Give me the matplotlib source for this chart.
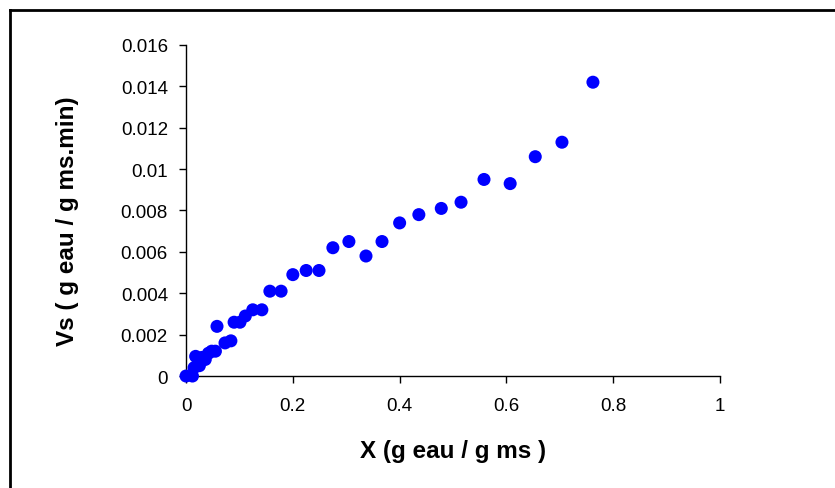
import matplotlib
matplotlib.use("Agg")
import matplotlib.pyplot as plt
from matplotlib.lines import Line2D

# Données
x_vals = [0.0, 0.012, 0.015, 0.018, 0.025, 0.030, 0.036, 0.042, 0.048, 0.055,
          0.058, 0.073, 0.084, 0.090, 0.101, 0.111, 0.125, 0.142, 0.157, 0.178,
          0.200, 0.225, 0.249, 0.275, 0.305, 0.337, 0.367, 0.400, 0.436, 0.478,
          0.515, 0.558, 0.607, 0.654, 0.704, 0.762]
vs_vals = [0.0, 0.0, 0.0004, 0.00095, 0.0005, 0.0009, 0.0008, 0.0011, 0.0012, 0.0012,
           0.0024, 0.0016, 0.0017, 0.0026, 0.0026, 0.0029, 0.0032, 0.0032, 0.0041, 0.0041,
           0.0049, 0.0051, 0.0051, 0.0062, 0.0065, 0.0058, 0.0065, 0.0074, 0.0078, 0.0081,
           0.0084, 0.0095, 0.0093, 0.0106, 0.0113, 0.0142]
x_ticks = [0, 0.2, 0.4, 0.6, 0.8, 1]
y_ticks = [0, 0.002, 0.004, 0.006, 0.008, 0.01, 0.012, 0.014, 0.016]

plt.rcParams['font.family'] = ['Liberation Sans', 'DejaVu Sans']

fig = plt.figure(figsize=(8.35, 4.89), dpi=100)
ax = fig.add_axes([0.2228, 0.229, 0.6395, 0.677])

ax.scatter(x_vals, vs_vals, s=88, color='#0000ff', edgecolors='none', zorder=3, clip_on=False)

ax.set_xlim(0, 1)
ax.set_ylim(0, 0.016)
ax.set_xticks(x_ticks)
ax.set_yticks(y_ticks)
ax.set_xticklabels(['%g' % t for t in x_ticks])
ax.set_yticklabels(['%g' % t for t in y_ticks])
ax.tick_params(direction='out', length=5, width=1, labelsize=13.5)
ax.tick_params(axis='y', pad=8)
ax.tick_params(axis='x', pad=10)

for s in ['top', 'right']:
    ax.spines[s].set_visible(False)
for s in ['left', 'bottom']:
    ax.spines[s].set_linewidth(1)

ax.set_xlabel('X (g eau / g ms )', fontsize=17.5, fontweight='bold', labelpad=18)
ax.set_ylabel('Vs ( g eau / g ms.min)', fontsize=17.5, fontweight='bold', labelpad=20)
ax.yaxis.set_label_coords(-0.2, 0.47)

# cadre (coupé à droite et en bas)
fig.add_artist(Line2D([10 / 835, 1.0], [1 - 11 / 489, 1 - 11 / 489], color='black', lw=2))
fig.add_artist(Line2D([10 / 835, 10 / 835], [0.0, 1 - 11 / 489], color='black', lw=2))

fig.savefig('out.png', dpi=100)
